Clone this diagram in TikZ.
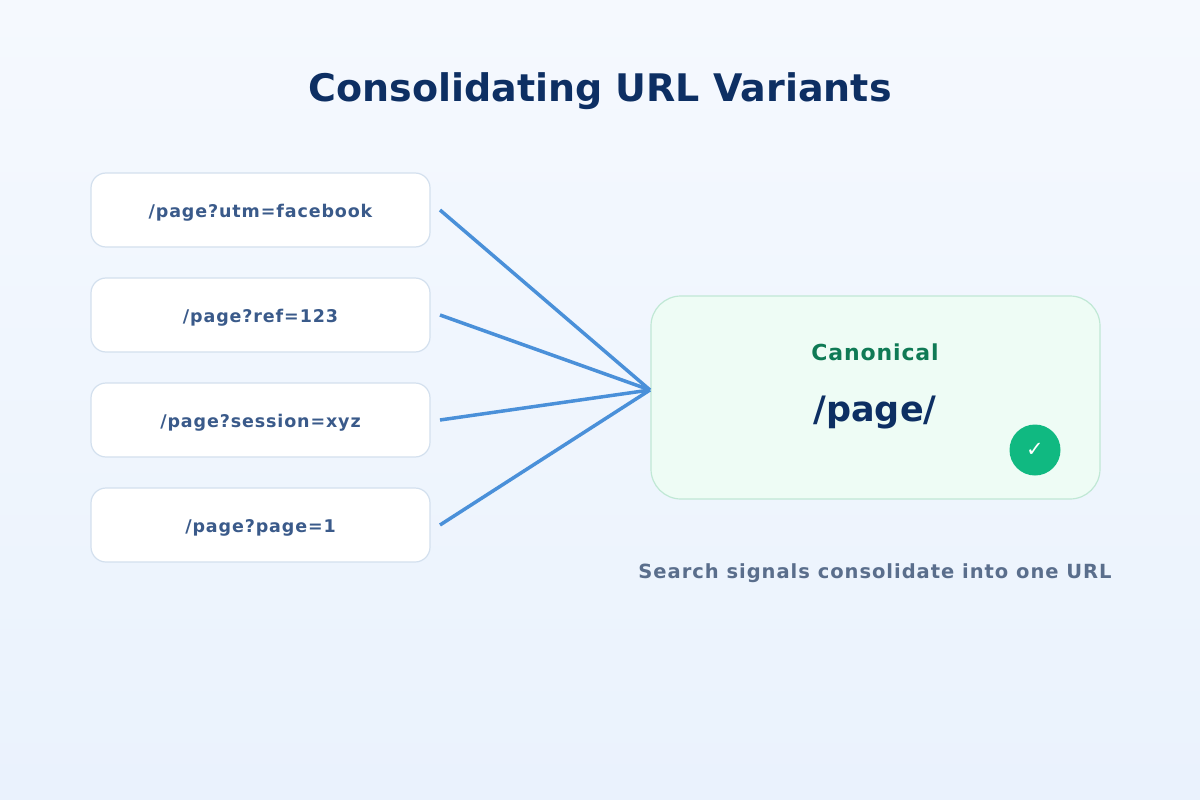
\documentclass[tikz,border=0pt]{standalone}
\usepackage{fontspec}
\setmainfont{DejaVu Sans}
\newfontfamily\spaced[LetterSpace=5]{DejaVu Sans}
\newfontfamily\spacedb[LetterSpace=4]{DejaVu Sans}
\begin{document}
\begin{tikzpicture}[x=1pt,y=-1pt,
  variant/.style={draw=bordc,line width=1.2pt,fill=white,rounded corners=15pt,minimum width=339pt,minimum height=74pt,text depth=0pt,font=\spaced\fontsize{17.5}{19}\selectfont\bfseries,text=varc},
  conn/.style={draw=linec,line width=3.5pt}]
\definecolor{bgtop}{HTML}{F5F9FE}\definecolor{bgbot}{HTML}{EAF2FD}
\definecolor{bordc}{HTML}{D3E0EE}\definecolor{varc}{HTML}{3A5A8A}
\definecolor{linec}{HTML}{4A90D9}\definecolor{navy}{HTML}{0D2F63}
\definecolor{cfill}{HTML}{EEFCF5}\definecolor{cbord}{HTML}{C0E8D5}
\definecolor{cgreen}{HTML}{0F7A55}\definecolor{chk}{HTML}{10B981}
\definecolor{subc}{HTML}{5A6E8C}
\shade[top color=bgtop,bottom color=bgbot] (0,0) rectangle (1200,800);
\useasboundingbox (0,0) rectangle (1200,800);
\node[font=\fontsize{38}{42}\selectfont\bfseries,text=navy] (title) at (600,91) {Consolidating URL Variants};
\node[variant] (v1) at (260.5,210) {\raisebox{-2pt}{/page?utm=facebook}};
\node[variant] (v2) at (260.5,315) {\raisebox{-2pt}{/page?ref=123}};
\node[variant] (v3) at (260.5,420) {\raisebox{-2pt}{/page?session=xyz}};
\node[variant] (v4) at (260.5,525) {\raisebox{-2pt}{/page?page=1}};
\node[draw=cbord,line width=1.2pt,fill=cfill,rounded corners=30pt,minimum width=449pt,minimum height=203pt] (can) at (875.5,397.5) {};
\coordinate (hub) at (650,390);
\coordinate (e1) at (440,210);\coordinate (e2) at (440,315);
\coordinate (e3) at (440,420);\coordinate (e4) at (440,525);
\foreach \i in {1,...,4}{\draw[conn] (e\i) -- (hub);}
\node[font=\spacedb\fontsize{22}{24}\selectfont\bfseries,text=cgreen] (cl) at (875,352) {Canonical};
\node[font=\fontsize{35}{38}\selectfont\bfseries,text=navy] (cu) at (875,413) {/page/};
\node[circle,fill=chk,minimum size=51pt,inner sep=0pt,text=white,font=\fontsize{21}{22}\selectfont] (ck) at (1035,450) {✓};
\node[font=\spaced\fontsize{19.5}{21}\selectfont\bfseries,text=subc] (sub) at (875,573) {Search signals consolidate into one URL};
\end{tikzpicture}
\end{document}
